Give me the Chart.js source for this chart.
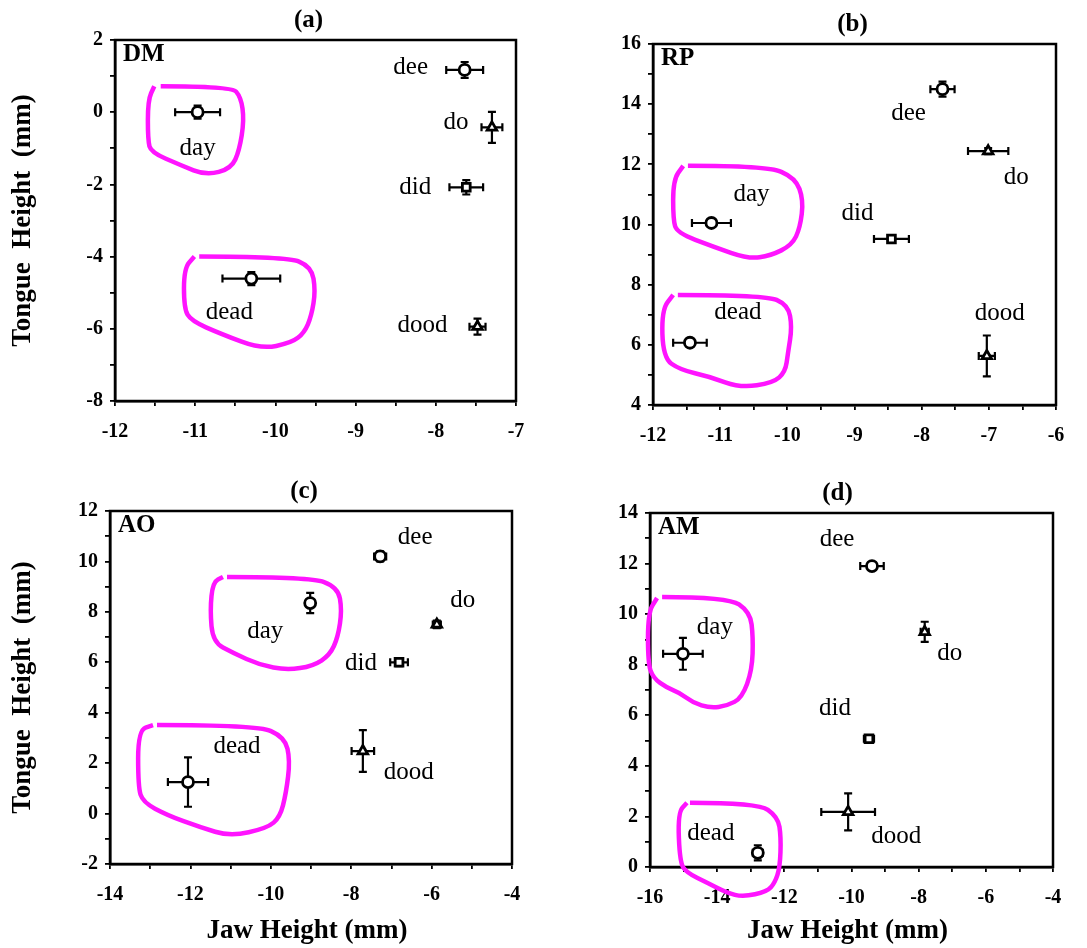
<!DOCTYPE html>
<html>
<head>
<meta charset="utf-8">
<script src="https://cdn.jsdelivr.net/npm/chart.js@4"></script>
<style>
  html, body { margin: 0; padding: 0; background: #fff; }
  #wrap { position: relative; width: 1087px; height: 948px; }
  canvas { position: absolute; }
</style>
</head>
<body>
<div id="wrap">
  <canvas id="pa" style="left:0;top:0" width="543" height="470"></canvas>
  <canvas id="pb" style="left:543px;top:0" width="544" height="470"></canvas>
  <canvas id="pc" style="left:0;top:470px" width="543" height="478"></canvas>
  <canvas id="pd" style="left:543px;top:470px" width="544" height="478"></canvas>
</div>
<script>
// words, same order in every panel
const categories = ['day', 'dead', 'dee', 'did', 'do', 'dood'];
const markerShapes = ['circle', 'circle', 'circle', 'rect', 'triangle', 'triangle'];

// (a) speaker DM
const dmJaw = [-10.97, -10.30, -7.64, -7.62, -7.30, -7.48];
const dmTongue = [0.00, -4.61, 1.17, -2.08, -0.42, -5.94];
const dmJawErr = [0.28, 0.36, 0.23, 0.21, 0.13, 0.10];
const dmTongueErr = [0.18, 0.18, 0.22, 0.20, 0.43, 0.22];
const dmXTicks = [-12, -11, -10, -9, -8, -7];
const dmYTicks = [-8, -6, -4, -2, 0, 2];

// (b) speaker RP
const rpJaw = [-11.13, -11.45, -7.69, -8.45, -7.01, -7.03];
const rpTongue = [10.05, 6.07, 14.50, 9.52, 12.44, 5.63];
const rpJawErr = [0.29, 0.25, 0.18, 0.26, 0.30, 0.12];
const rpTongueErr = [0.10, 0.10, 0.25, 0.10, 0.10, 0.68];
const rpXTicks = [-12, -11, -10, -9, -8, -7, -6];
const rpYTicks = [4, 6, 8, 10, 12, 14, 16];

// (c) speaker AO
const aoJaw = [-9.02, -12.06, -7.28, -6.81, -5.87, -7.71];
const aoTongue = [8.35, 1.25, 10.20, 6.00, 7.50, 2.48];
const aoJawErr = [0.10, 0.50, 0.15, 0.22, 0.10, 0.28];
const aoTongueErr = [0.40, 0.98, 0.20, 0.15, 0.15, 0.83];
const aoXTicks = [-14, -12, -10, -8, -6, -4];
const aoYTicks = [-2, 0, 2, 4, 6, 8, 10, 12];

// (d) speaker AM
const amJaw = [-15.02, -12.79, -9.39, -9.48, -7.82, -10.10];
const amTongue = [8.43, 0.56, 11.90, 5.07, 9.30, 2.18];
const amJawErr = [0.59, 0.15, 0.35, 0.15, 0.12, 0.80];
const amTongueErr = [0.63, 0.30, 0.15, 0.15, 0.40, 0.73];
const amXTicks = [-16, -14, -12, -10, -8, -6, -4];
const amYTicks = [0, 2, 4, 6, 8, 10, 12, 14];

// magenta hand-drawn loops, in data units (jaw, tongue)
const dmLoops = [
  [[-11.43, 0.72], [-10.55, 0.72], [-10.43, 0.42], [-10.39, -0.22], [-10.45, -1.06], [-10.55, -1.56],
   [-10.86, -1.75], [-11.18, -1.47], [-11.55, -1.11], [-11.59, -0.78], [-11.59, 0.33], [-11.51, 0.72]],
  [[-10.95, -4.0], [-9.86, -4.0], [-9.55, -4.28], [-9.5, -4.94], [-9.55, -5.64], [-9.64, -6.11],
   [-9.8, -6.39], [-10.18, -6.56], [-10.68, -6.14], [-11.05, -5.78], [-11.14, -5.44], [-11.14, -4.33], [-11.01, -4.0]]
];
const rpLoops = [
  [[-11.48, 11.95], [-10.3, 11.95], [-9.88, 11.55], [-9.76, 10.82], [-9.81, 9.89], [-9.93, 9.32],
   [-10.25, 8.96], [-10.58, 8.86], [-11.1, 9.26], [-11.64, 9.72], [-11.7, 10.15], [-11.7, 11.48], [-11.55, 11.95]],
  [[-11.63, 7.66], [-10.33, 7.66], [-9.99, 7.33], [-9.93, 6.6], [-9.99, 5.73], [-10.03, 5.1],
   [-10.21, 4.74], [-10.7, 4.57], [-11.15, 4.94], [-11.6, 5.17], [-11.85, 5.57], [-11.87, 7.16], [-11.7, 7.66]]
];
const aoLoops = [
  [[-11.09, 9.38], [-9.02, 9.38], [-8.33, 8.98], [-8.23, 8.07], [-8.33, 7.0], [-8.53, 6.29], [-8.95, 5.85],
   [-9.6, 5.69], [-10.27, 5.89], [-10.94, 6.37], [-11.44, 6.8], [-11.51, 8.07], [-11.44, 9.18], [-11.19, 9.38]],
  [[-12.83, 3.51], [-10.34, 3.51], [-9.65, 3.03], [-9.52, 2.12], [-9.62, 0.81], [-9.77, -0.14], [-10.09, -0.58],
   [-11.01, -0.9], [-11.76, -0.54], [-12.58, -0.06], [-13.18, 0.45], [-13.3, 1.05], [-13.3, 3.31], [-12.93, 3.51]]
];
const amLoops = [
  [[-15.64, 10.68], [-13.68, 10.68], [-13.02, 10.09], [-12.93, 9.1], [-12.96, 7.79], [-13.26, 6.69], [-13.71, 6.37],
   [-14.21, 6.29], [-14.72, 6.49], [-15.11, 6.89], [-15.49, 7.08], [-15.91, 7.48], [-16.06, 8.07], [-16.06, 10.05], [-15.79, 10.64]],
  [[-14.81, 2.54], [-12.79, 2.54], [-12.19, 1.98], [-12.1, 1.19], [-12.13, 0.0], [-12.28, -0.62], [-12.52, -0.98],
   [-13.23, -1.18], [-13.71, -1.02], [-14.3, -0.62], [-14.9, -0.23], [-15.11, 0.17], [-15.17, 2.14], [-14.9, 2.54]]
];

const SERIF = '"Liberation Serif", "Times New Roman", serif';

// layout of each panel (pixels inside its canvas)
const panels = {
  pa: { title: '(a)', who: 'DM', jaw: dmJaw, tongue: dmTongue, jawErr: dmJawErr, tongueErr: dmTongueErr,
        xTicks: dmXTicks, yTicks: dmYTicks, xMinor: 0.5, yMinor: 1, loops: dmLoops,
        area: [115, 40, 516, 401], yTitle: true, xTitle: false, titleShift: -7,
        offsets: [[0, 36], [-22, 34], [-54, -3], [-51, 0], [-36, -5], [-55, -1]] },
  pb: { title: '(b)', who: 'RP', jaw: rpJaw, tongue: rpTongue, jawErr: rpJawErr, tongueErr: rpTongueErr,
        xTicks: rpXTicks, yTicks: rpYTicks, xMinor: 0.5, yMinor: 1, loops: rpLoops,
        area: [110, 44, 513, 405], yTitle: false, xTitle: false, titleShift: -2,
        offsets: [[40, -29], [48, -30], [-34, 24], [-34, -26], [28, 26], [13, -43]] },
  pc: { title: '(c)', who: 'AO', jaw: aoJaw, tongue: aoTongue, jawErr: aoJawErr, tongueErr: aoTongueErr,
        xTicks: aoXTicks, yTicks: aoYTicks, xMinor: 1, yMinor: 1, loops: aoLoops,
        area: [110, 41, 512, 394], yTitle: true, xTitle: true, titleShift: -7,
        offsets: [[-45, 28], [49, -36], [35, -19], [-38, 1], [26, -24], [46, 21]] },
  pd: { title: '(d)', who: 'AM', jaw: amJaw, tongue: amTongue, jawErr: amJawErr, tongueErr: amTongueErr,
        xTicks: amXTicks, yTicks: amYTicks, xMinor: 1, yMinor: 1, loops: amLoops,
        area: [107, 43, 510, 397], yTitle: false, xTitle: true, titleShift: -14,
        offsets: [[32, -26], [-47, -19], [-35, -27], [-34, -30], [25, 22], [48, 25]] }
};

function buildTicks(list, step) {
  const out = [];
  const lo = list[0], hi = list[list.length - 1];
  for (let v = lo; v <= hi + 1e-9; v += step) {
    const r = Math.round(v * 100) / 100;
    out.push({ value: r, label: list.includes(r) ? String(r) : '' });
  }
  return out;
}

function smoothPath(ctx, pts) {
  ctx.beginPath();
  ctx.moveTo(pts[0][0], pts[0][1]);
  for (let i = 1; i < pts.length - 1; i++) {
    const mx = (pts[i][0] + pts[i + 1][0]) / 2;
    const my = (pts[i][1] + pts[i + 1][1]) / 2;
    ctx.quadraticCurveTo(pts[i][0], pts[i][1], mx, my);
  }
  const last = pts[pts.length - 1];
  ctx.lineTo(last[0], last[1]);
  ctx.stroke();
}

const panelPlugin = {
  id: 'panelExtras',
  beforeDatasetsDraw(chart) {
    const p = panels[chart.canvas.id];
    const xs = chart.scales.x, ys = chart.scales.y;
    const ctx = chart.ctx;
    ctx.save();
    ctx.strokeStyle = '#000';
    ctx.lineWidth = 2.2;
    const cap = 4;
    p.jaw.forEach((jx, i) => {
      const ty = p.tongue[i];
      const cx = xs.getPixelForValue(jx), cy = ys.getPixelForValue(ty);
      const x0 = xs.getPixelForValue(jx - p.jawErr[i]), x1 = xs.getPixelForValue(jx + p.jawErr[i]);
      const y0 = ys.getPixelForValue(ty - p.tongueErr[i]), y1 = ys.getPixelForValue(ty + p.tongueErr[i]);
      ctx.beginPath();
      ctx.moveTo(x0, cy); ctx.lineTo(x1, cy);
      ctx.moveTo(x0, cy - cap); ctx.lineTo(x0, cy + cap);
      ctx.moveTo(x1, cy - cap); ctx.lineTo(x1, cy + cap);
      ctx.moveTo(cx, y0); ctx.lineTo(cx, y1);
      ctx.moveTo(cx - cap, y0); ctx.lineTo(cx + cap, y0);
      ctx.moveTo(cx - cap, y1); ctx.lineTo(cx + cap, y1);
      ctx.stroke();
    });
    ctx.restore();
  },
  afterDraw(chart) {
    const p = panels[chart.canvas.id];
    const xs = chart.scales.x, ys = chart.scales.y;
    const a = chart.chartArea;
    const ctx = chart.ctx;
    ctx.save();
    // frame
    ctx.strokeStyle = '#000';
    ctx.lineWidth = 2.5;
    ctx.strokeRect(a.left, a.top, a.right - a.left, a.bottom - a.top);

    // magenta loops
    ctx.strokeStyle = '#ff14ff';
    ctx.lineWidth = 4.5;
    ctx.lineJoin = 'round';
    ctx.lineCap = 'butt';
    p.loops.forEach(loop => {
      smoothPath(ctx, loop.map(q => [xs.getPixelForValue(q[0]), ys.getPixelForValue(q[1])]));
    });

    // word labels
    ctx.fillStyle = '#000';
    ctx.font = '25px ' + SERIF;
    ctx.textAlign = 'center';
    ctx.textBaseline = 'middle';
    categories.forEach((w, i) => {
      const px = xs.getPixelForValue(p.jaw[i]) + p.offsets[i][0];
      const py = ys.getPixelForValue(p.tongue[i]) + p.offsets[i][1];
      ctx.fillText(w, px, py);
    });

    // speaker tag
    ctx.font = 'bold 25px ' + SERIF;
    ctx.textAlign = 'left';
    ctx.fillText(p.who, a.left + 8, a.top + 15);

    // panel title
    ctx.font = 'bold 25px ' + SERIF;
    ctx.textAlign = 'center';
    ctx.fillText(p.title, (a.left + a.right) / 2 + p.titleShift, a.top - 19);

    // axis titles
    ctx.font = 'bold 27px ' + SERIF;
    if (p.yTitle) {
      ctx.save();
      ctx.translate(23, (a.top + a.bottom) / 2);
      ctx.rotate(-Math.PI / 2);
      ctx.fillText('Tongue  Height  (mm)', 0, 0);
      ctx.restore();
    }
    if (p.xTitle) {
      ctx.fillText('Jaw Height (mm)', (a.left + a.right) / 2 - 4, 461);
    }
    ctx.restore();
  }
};

function makePanel(id) {
  const p = panels[id];
  const canvas = document.getElementById(id);
  const W = canvas.width, H = canvas.height;
  const [L, T, R, B] = p.area;
  const axisGrid = { display: true, drawOnChartArea: false, drawTicks: true, tickLength: 5, color: '#000', lineWidth: 1.8 };
  const tickFont = { family: SERIF, size: 20, weight: 'bold' };
  new Chart(canvas, {
    type: 'scatter',
    data: {
      labels: categories,
      datasets: [{
        data: p.jaw.map((x, i) => ({ x, y: p.tongue[i] })),
        pointStyle: markerShapes,
        pointRadius: 5.5,
        pointHoverRadius: 5.5,
        pointBackgroundColor: '#fff',
        pointBorderColor: '#000',
        pointBorderWidth: 2.8
      }]
    },
    options: {
      responsive: false,
      animation: false,
      events: [],
      layout: { padding: { left: 0, top: T, right: W - R, bottom: 0 } },
      plugins: { legend: { display: false }, tooltip: { enabled: false }, title: { display: false } },
      scales: {
        x: {
          type: 'linear',
          min: p.xTicks[0], max: p.xTicks[p.xTicks.length - 1],
          afterBuildTicks: s => { s.ticks = buildTicks(p.xTicks, p.xMinor); },
          afterFit: s => { s.height = H - B; },
          grid: axisGrid,
          border: { display: true, color: '#000', width: 2.5 },
          ticks: { autoSkip: false, maxRotation: 0, color: '#000', font: tickFont, padding: 14,
                   callback: (v) => p.xTicks.includes(v) ? String(v) : '' }
        },
        y: {
          type: 'linear',
          min: p.yTicks[0], max: p.yTicks[p.yTicks.length - 1],
          afterBuildTicks: s => { s.ticks = buildTicks(p.yTicks, p.yMinor); },
          afterFit: s => { s.width = L; },
          grid: axisGrid,
          border: { display: true, color: '#000', width: 2.5 },
          ticks: { autoSkip: false, color: '#000', font: tickFont, padding: 7,
                   callback: (v) => p.yTicks.includes(v) ? String(v) : '' }
        }
      }
    },
    plugins: [panelPlugin]
  });
}

['pa', 'pb', 'pc', 'pd'].forEach(makePanel);
</script>
</body>
</html>
